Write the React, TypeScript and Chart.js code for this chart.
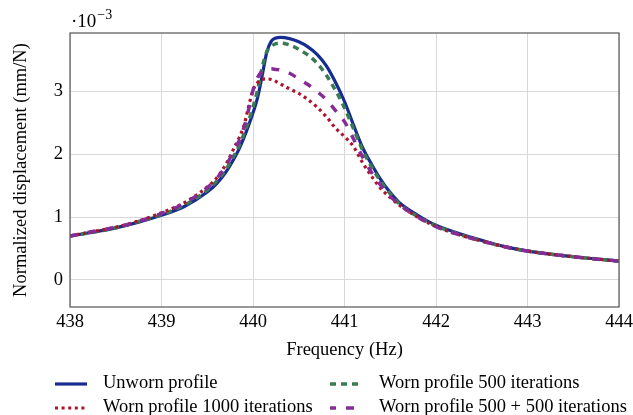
import React, { useEffect, useRef } from "react";
import { Chart, registerables } from "chart.js";

Chart.register(...registerables);

const freq = [438, 438.25, 438.5, 438.75, 439, 439.25, 439.5, 439.6, 439.7, 439.8, 439.85, 439.9, 439.95, 440.0, 440.05, 440.1, 440.15, 440.2, 440.25, 440.3, 440.4, 440.5, 440.6, 440.7, 440.8, 440.9, 441.0, 441.1, 441.2, 441.3, 441.4, 441.5, 441.6, 441.8, 442.0, 442.25, 442.5, 442.75, 443, 443.5, 444];

const unworn = [0.70, 0.76, 0.83, 0.92, 1.03, 1.17, 1.40, 1.53, 1.71, 1.95, 2.09, 2.26, 2.45, 2.66, 2.90, 3.25, 3.62, 3.80, 3.85, 3.86, 3.84, 3.79, 3.71, 3.59, 3.41, 3.15, 2.84, 2.46, 2.10, 1.83, 1.59, 1.39, 1.23, 1.03, 0.87, 0.74, 0.63, 0.53, 0.46, 0.37, 0.30];

const worn500 = [0.70, 0.76, 0.83, 0.93, 1.04, 1.19, 1.43, 1.57, 1.75, 2.00, 2.14, 2.32, 2.52, 2.75, 3.02, 3.38, 3.63, 3.72, 3.76, 3.77, 3.74, 3.67, 3.58, 3.45, 3.26, 3.02, 2.74, 2.40, 2.06, 1.79, 1.56, 1.37, 1.21, 1.01, 0.86, 0.73, 0.62, 0.53, 0.46, 0.37, 0.30];

const worn1000 = [0.70, 0.77, 0.84, 0.94, 1.07, 1.23, 1.48, 1.62, 1.83, 2.12, 2.27, 2.45, 2.75, 3.02, 3.14, 3.19, 3.20, 3.19, 3.16, 3.12, 3.04, 2.97, 2.87, 2.75, 2.60, 2.42, 2.28, 2.12, 1.86, 1.64, 1.45, 1.31, 1.19, 1.00, 0.85, 0.72, 0.62, 0.53, 0.46, 0.37, 0.30];

const worn500500 = [0.70, 0.77, 0.84, 0.93, 1.06, 1.22, 1.47, 1.61, 1.81, 2.08, 2.22, 2.42, 2.70, 3.02, 3.22, 3.32, 3.36, 3.36, 3.35, 3.34, 3.29, 3.20, 3.11, 3.00, 2.87, 2.70, 2.52, 2.24, 1.95, 1.70, 1.50, 1.33, 1.20, 1.00, 0.85, 0.72, 0.62, 0.53, 0.46, 0.37, 0.30];

const xTicks = [438, 439, 440, 441, 442, 443, 444];
const yTicks = [0, 1, 2, 3];

const FONT = "'Liberation Serif', 'Times New Roman', 'DejaVu Serif', serif";

const BLUE = "rgb(22, 44, 145)";
const GREEN = "rgb(58, 122, 84)";
const RED = "rgb(172, 20, 44)";
const PURPLE = "rgb(134, 44, 150)";

type LegendItem = { label: string; color: string; dash: number[]; width: number; col: number; row: number };

const legendItems: LegendItem[] = [
  { label: "Unworn profile", color: BLUE, dash: [], width: 3.2, col: 0, row: 0 },
  { label: "Worn profile 500 iterations", color: GREEN, dash: [6, 5], width: 3.5, col: 1, row: 0 },
  { label: "Worn profile 1000 iterations", color: RED, dash: [3, 3.6], width: 3.2, col: 0, row: 1 },
  { label: "Worn profile 500 + 500 iterations", color: PURPLE, dash: [8, 10], width: 3.5, col: 1, row: 1 },
];

const toPoints = (ys: number[]) => freq.map((x, i) => ({ x, y: ys[i] }));

export default function App() {
  const canvasRef = useRef<HTMLCanvasElement | null>(null);

  useEffect(() => {
    document.body.style.margin = "0";
    const canvas = canvasRef.current;
    if (!canvas) return;

    const decorations = {
      id: "decorations",
      afterDraw(chart: any) {
        const ctx = chart.ctx as CanvasRenderingContext2D;
        const a = chart.chartArea;
        ctx.save();
        // frame
        ctx.strokeStyle = "#555";
        ctx.lineWidth = 1.2;
        ctx.setLineDash([]);
        ctx.strokeRect(a.left, a.top, a.right - a.left, a.bottom - a.top);

        // exponent label
        ctx.fillStyle = "#000";
        ctx.textBaseline = "alphabetic";
        ctx.textAlign = "left";
        ctx.font = `19px ${FONT}`;
        const base = "\u00b710";
        ctx.fillText(base, a.left + 1, a.top - 6);
        const w = ctx.measureText(base).width;
        ctx.font = `14px ${FONT}`;
        ctx.fillText("\u22123", a.left + 1 + w + 1, a.top - 14);

        // legend
        const colLine = [55, 330];
        const colText = [103, 379];
        const rowY = [384, 408];
        ctx.font = `18.5px ${FONT}`;
        ctx.textBaseline = "middle";
        legendItems.forEach((it) => {
          const y = rowY[it.row];
          ctx.strokeStyle = it.color;
          ctx.lineWidth = it.width;
          ctx.lineCap = "butt";
          ctx.setLineDash(it.dash);
          ctx.lineDashOffset = it.col === 1 && it.row === 1 ? 2 : 0;
          ctx.beginPath();
          ctx.moveTo(colLine[it.col], y);
          ctx.lineTo(colLine[it.col] + 32, y);
          ctx.stroke();
          ctx.setLineDash([]);
          ctx.fillStyle = "#000";
          ctx.fillText(it.label, colText[it.col], y - 1);
        });
        ctx.restore();
      },
    };

    const chart = new Chart(canvas, {
      type: "line",
      data: {
        datasets: [
          {
            label: "Unworn profile",
            data: toPoints(unworn),
            borderColor: BLUE,
            borderWidth: 3.2,
            order: 4,
          },
          {
            label: "Worn profile 500 iterations",
            data: toPoints(worn500),
            borderColor: GREEN,
            borderWidth: 3.5,
            borderDash: [6, 5],
            order: 3,
          },
          {
            label: "Worn profile 1000 iterations",
            data: toPoints(worn1000),
            borderColor: RED,
            borderWidth: 3.2,
            borderDash: [3, 3.6],
            order: 2,
          },
          {
            label: "Worn profile 500 + 500 iterations",
            data: toPoints(worn500500),
            borderColor: PURPLE,
            borderWidth: 3.5,
            borderDash: [8, 10],
            order: 1,
          },
        ] as any,
      },
      options: {
        animation: false,
        responsive: false,
        events: [],
        layout: { padding: { top: 33, right: 14, bottom: 48, left: 0 } },
        elements: {
          point: { radius: 0 },
          line: { cubicInterpolationMode: "monotone", fill: false, borderCapStyle: "butt" },
        },
        plugins: {
          legend: { display: false },
          tooltip: { enabled: false },
        },
        scales: {
          x: {
            type: "linear",
            min: 438,
            max: 444,
            afterBuildTicks: (scale: any) => {
              scale.ticks = xTicks.map((v) => ({ value: v }));
            },
            afterFit: (scale: any) => {
              scale.height = 60;
              scale.paddingLeft = 0;
              scale.paddingRight = 0;
            },
            grid: { color: "#d9d9d9", lineWidth: 1, drawTicks: false },
            border: { display: false },
            ticks: {
              padding: 4,
              color: "#000",
              font: { family: FONT, size: 18.5 },
              maxRotation: 0,
              autoSkip: false,
            },
            title: {
              display: true,
              text: "Frequency (Hz)",
              color: "#000",
              font: { family: FONT, size: 18.5 },
              padding: { top: 0, bottom: 6 },
            },
          },
          y: {
            type: "linear",
            min: -0.43,
            max: 3.93,
            afterBuildTicks: (scale: any) => {
              scale.ticks = yTicks.map((v) => ({ value: v }));
            },
            afterFit: (scale: any) => {
              scale.width = 70;
              scale.paddingTop = 0;
              scale.paddingBottom = 0;
            },
            grid: { color: "#d9d9d9", lineWidth: 1, drawTicks: false },
            border: { display: false },
            ticks: {
              padding: 7,
              color: "#000",
              font: { family: FONT, size: 18.5 },
              callback: (v: any) => String(v),
            },
            title: {
              display: true,
              text: "Normalized displacement (mm/N)",
              color: "#000",
              font: { family: FONT, size: 18.5 },
              padding: { top: 10, bottom: 0 },
            },
          },
        },
      } as any,
      plugins: [decorations],
    });

    return () => chart.destroy();
  }, []);

  return (
    <div style={{ position: "relative", width: 633, height: 415 }}>
      <canvas ref={canvasRef} width={633} height={415} style={{ display: "block", width: 633, height: 415 }} />
    </div>
  );
}
